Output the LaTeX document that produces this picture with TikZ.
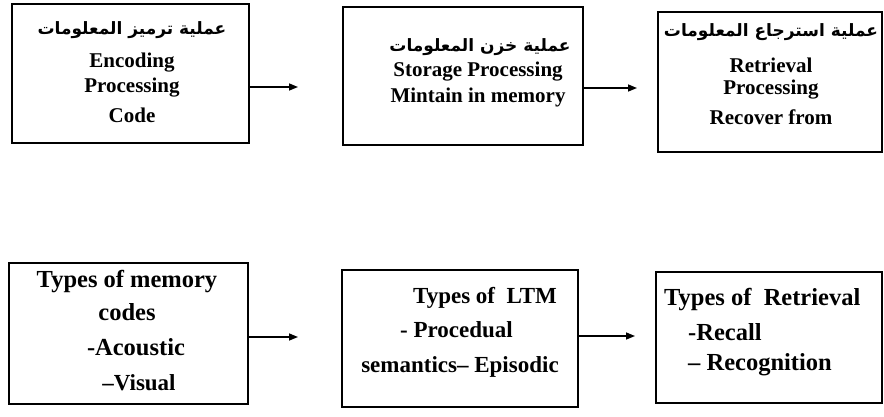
\documentclass[tikz,border=0pt]{standalone}
\usepackage{fontspec}
\setmainfont{Liberation Serif}
\newfontfamily\arabicfont[Script=Arabic]{DejaVu Sans}
\TeXXeTstate=1
\usetikzlibrary{arrows.meta}

\tikzset{
  stagebox/.style={draw=black, line width=1.6pt, rectangle, inner sep=0pt},
  entxt/.style={font=\fontsize{21}{21}\selectfont\bfseries, inner sep=0pt, anchor=center},
  lowtxt/.style={font=\fontsize{23}{23}\selectfont\bfseries, inner sep=0pt},
  bigtxt/.style={font=\fontsize{24.5}{24.5}\selectfont\bfseries, inner sep=0pt},
  artxt/.style={font=\arabicfont\fontsize{17}{17}\selectfont\bfseries, inner sep=0pt},
  flow/.style={line width=1.5pt, -{Triangle[length=9pt,width=7pt]}}
}

\begin{document}
\begin{tikzpicture}[x=1pt, y=-1pt]
\useasboundingbox (0,0) rectangle (884,416);

% ---- upper row: the three processing stages ----
\node[stagebox, minimum width=237pt, minimum height=139pt] (b1) at (130.5,73.5) {};
\node[stagebox, minimum width=240pt, minimum height=138pt] (b2) at (463,76) {};
\node[stagebox, minimum width=224pt, minimum height=140pt] (b3) at (770,82) {};

\node[artxt] (b1ar) at (132,30) {\beginR عملية ترميز المعلومات\endR};
\node[entxt] (b1l1) at (132,63) {Encoding};
\node[entxt] (b1l2) at (132,88) {Processing};
\node[entxt] (b1l3) at (132,115) {Code};

\node[artxt] (b2ar) at (480,47) {\beginR عملية خزن المعلومات\endR};
\node[entxt] (b2l1) at (478,72) {Storage Processing};
\node[entxt] (b2l2) at (478,97) {Mintain in memory};

\node[artxt] (b3ar) at (771,32) {\beginR عملية استرجاع المعلومات\endR};
\node[entxt] (b3l1) at (771,65) {Retrieval};
\node[entxt] (b3l2) at (771,90) {Processing};
\node[entxt] (b3l3) at (771,117) {Recover from};

% ---- lower row: the kinds belonging to each stage ----
\node[stagebox, minimum width=239pt, minimum height=141pt] (b4) at (128.5,333.5) {};
\node[stagebox, minimum width=236pt, minimum height=137pt] (b5) at (460,338.5) {};
\node[stagebox, minimum width=226pt, minimum height=131pt] (b6) at (769,337.5) {};

\node[bigtxt] (b4l1) at (127,282) {Types of memory};
\node[bigtxt] (b4l2) at (127,312) {codes};
\node[bigtxt] (b4l3) at (136,347) {-Acoustic};
\node[lowtxt] (b4l4) at (139,383) {–Visual};

\node[lowtxt] (b5l1) at (485,298) {Types of \ LTM};
\node[lowtxt, anchor=west] (b5l2) at (400,330) {- Procedual};
\node[lowtxt] (b5l3) at (460,367) {semantics– Episodic};

\node[bigtxt, anchor=west] (b6l1) at (664,300) {Types of \ Retrieval};
\node[bigtxt, anchor=west] (b6l2) at (688,332) {-Recall};
\node[bigtxt, anchor=west] (b6l3) at (688,365) {– Recognition};

% ---- connectors: free ends stop short of the next box ----
\coordinate (e1) at (298,87);
\coordinate (e2) at (637,88);
\coordinate (e3) at (298,337);
\coordinate (e4) at (635,336);
\draw[flow] (b1.east |- e1) -- (e1);
\draw[flow] (b2.east |- e2) -- (e2);
\draw[flow] (b4.east |- e3) -- (e3);
\draw[flow] (b5.east |- e4) -- (e4);
\end{tikzpicture}
\end{document}
